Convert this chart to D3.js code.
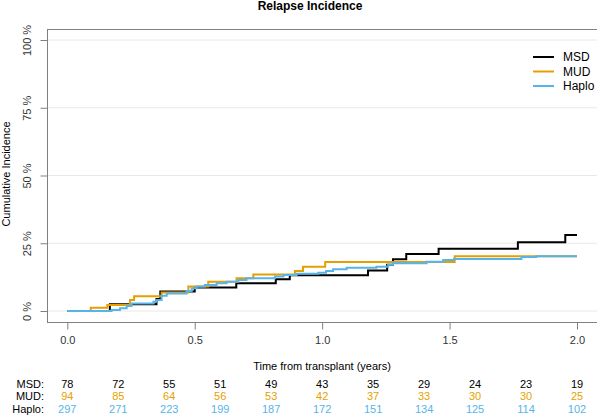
<!DOCTYPE html>
<html><head><meta charset="utf-8">
<script src="https://cdn.jsdelivr.net/npm/d3@7"></script>
<style>
body{margin:0;background:#fff;}
svg{display:block;font-family:"Liberation Sans",Arial,sans-serif;}
</style></head>
<body><svg id="c" width="597" height="416"></svg>
<script>
// Step data: [time (years), cumulative incidence %]
const msdSteps = [[0,0],[0.167,2.5],[0.35,4.4],[0.365,7.2],[0.5,8.7],[0.663,10.2],[0.818,11.7],[0.873,13.2],[1.18,14.9],[1.255,17.1],[1.278,19.1],[1.33,21.0],[1.457,23.0],[1.768,25.4],[1.954,28.0],[2.0,28.0]];
const mudSteps = [[0,0],[0.092,1.2],[0.157,2.2],[0.246,4.1],[0.262,5.4],[0.37,6.8],[0.475,9.0],[0.553,10.8],[0.664,12.1],[0.73,13.5],[0.893,14.8],[0.925,16.3],[1.012,18.1],[1.52,20.2],[2.0,20.2]];
const haploSteps = [[0,0],[0.174,0.4],[0.207,1.0],[0.233,1.8],[0.252,2.8],[0.338,3.4],[0.35,4.1],[0.37,5.6],[0.39,6.5],[0.468,7.4],[0.488,8.4],[0.507,9.0],[0.54,9.6],[0.586,10.2],[0.625,10.8],[0.671,11.4],[0.703,12.1],[0.815,12.7],[0.848,13.3],[0.9,13.7],[0.985,14.1],[1.015,14.8],[1.043,15.4],[1.096,16.0],[1.213,16.3],[1.259,17.1],[1.278,17.6],[1.41,18.2],[1.475,18.8],[1.517,19.2],[1.782,19.9],[1.84,20.2],[2.0,20.2]];

const seriesNames = ["MSD","MUD","Haplo"];
const seriesColors = ["#000000","#E69F00","#56B4E9"];
const yTicks = [0,25,50,75,100];
const xTicks = [0,0.5,1.0,1.5,2.0];
const riskTimes = [0,0.2,0.4,0.6,0.8,1.0,1.2,1.4,1.6,1.8,2.0];
const riskMSD = [78,72,55,51,49,43,35,29,24,23,19];
const riskMUD = [94,85,64,56,53,42,37,33,30,30,25];
const riskHaplo = [297,271,223,199,187,172,151,134,125,114,102];

const svg = d3.select("#c");
const L = 47, R = 597, T = 29, B = 322;
const x = d3.scaleLinear().domain([0,2]).range([67.3,577]);
const y = d3.scaleLinear().domain([0,100]).range([311,40]);

// gridlines
svg.append("g").selectAll("line").data(yTicks).join("line")
  .attr("x1",L).attr("x2",R).attr("y1",d=>y(d)).attr("y2",d=>y(d))
  .attr("stroke","#e8e8e8").attr("stroke-width",1);

// frame: top, left, bottom
const axisCol = "#808080";
svg.append("line").attr("x1",L).attr("x2",R).attr("y1",T+0.5).attr("y2",T+0.5).attr("stroke",axisCol);
svg.append("line").attr("x1",L+0.5).attr("x2",L+0.5).attr("y1",T).attr("y2",B).attr("stroke",axisCol);
svg.append("line").attr("x1",L).attr("x2",R).attr("y1",B+0.5).attr("y2",B+0.5).attr("stroke",axisCol);

// y axis ticks and labels
const yAxis = d3.axisLeft(y).tickValues(yTicks).tickSize(7).tickFormat(d=>d+" %");
const gy = svg.append("g").attr("transform",`translate(${L+0.5},0)`).call(yAxis);
gy.select(".domain").remove();
gy.selectAll(".tick line").attr("stroke",axisCol);
gy.selectAll(".tick text").attr("transform","rotate(-90)").attr("x",0).attr("y",-17)
  .attr("dy","0").attr("text-anchor","middle").attr("fill","#333").style("font-size","11px").style("font-family","Liberation Sans, Arial, sans-serif");

// x axis
const xAxis = d3.axisBottom(x).tickValues(xTicks).tickSize(7).tickFormat(d3.format(".1f"));
const gx = svg.append("g").attr("transform",`translate(0,${B+0.5})`).call(xAxis);
gx.select(".domain").remove();
gx.selectAll(".tick line").attr("stroke",axisCol);
gx.selectAll(".tick text").attr("y",14).attr("dy","0.71em").attr("fill","#333").style("font-size","11px").style("font-family","Liberation Sans, Arial, sans-serif");

// curves
const line = d3.line().x(d=>x(d[0])).y(d=>y(d[1])).curve(d3.curveStepAfter);
[msdSteps,mudSteps,haploSteps].forEach((s,i)=>{
  svg.append("path").datum(s).attr("d",line).attr("fill","none")
    .attr("stroke",seriesColors[i]).attr("stroke-width",2);
});

// title
svg.append("text").attr("x",310).attr("y",10).attr("text-anchor","middle")
  .style("font-weight","bold").style("font-size","12px").text("Relapse Incidence");

// y label
svg.append("text").attr("transform","translate(10,174) rotate(-90)").attr("text-anchor","middle")
  .style("font-size","11px").text("Cumulative Incidence");

// x label
svg.append("text").attr("x",322).attr("y",370).attr("text-anchor","middle")
  .style("font-size","11px").text("Time from transplant (years)");

// legend
const lg = svg.append("g");
seriesNames.forEach((n,i)=>{
  const yy = 57 + i*14.5;
  lg.append("line").attr("x1",533).attr("x2",554).attr("y1",yy).attr("y2",yy)
    .attr("stroke",seriesColors[i]).attr("stroke-width",2);
  lg.append("text").attr("x",563).attr("y",yy+4).style("font-size","12px").text(n);
});

// risk table
const risks = [riskMSD,riskMUD,riskHaplo];
const rowLabels = ["MSD:","MUD:","Haplo:"];
risks.forEach((r,i)=>{
  const yy = 387.5 + i*12.7;
  svg.append("text").attr("x",44).attr("y",yy).attr("text-anchor","end")
    .style("font-size","11px").text(rowLabels[i]);
  svg.append("g").selectAll("text").data(r).join("text")
    .attr("x",(d,j)=>x(riskTimes[j])).attr("y",yy).attr("text-anchor","middle")
    .attr("fill",seriesColors[i]).style("font-size","11px").text(d=>d);
});
</script></body></html>
